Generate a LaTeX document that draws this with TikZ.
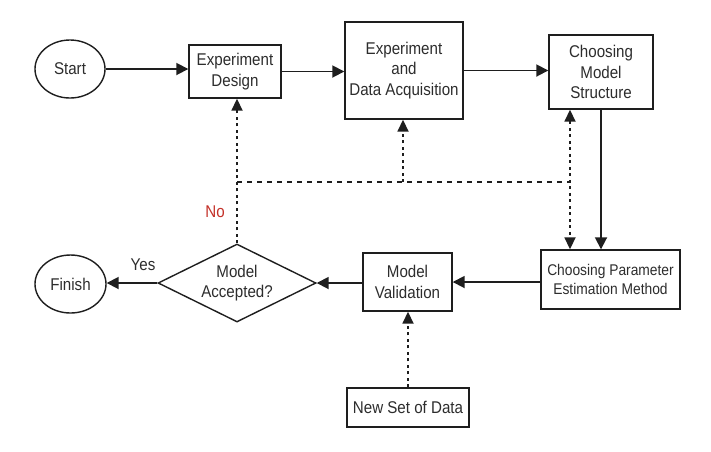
\documentclass[tikz,border=0pt]{standalone}
\usepackage{fontspec}
\setmainfont{Liberation Sans}[FakeStretch=0.89]
\usetikzlibrary{shapes.geometric,arrows.meta}
\definecolor{ink}{RGB}{30,30,30}
\definecolor{txt}{RGB}{45,45,45}
\definecolor{nored}{RGB}{196,48,40}
\begin{document}
\begin{tikzpicture}[x=1pt,y=-1pt,
  every node/.style={text=txt,font=\fontsize{17}{20.5}\selectfont,align=center,inner sep=0pt},
  box/.style={draw=ink,line width=1.4pt,rectangle},
  oval/.style={draw=ink,line width=1.4pt,ellipse},
  decision/.style={draw=ink,line width=1.4pt,diamond,aspect=2},
  conn/.style={draw=ink,line width=1.8pt,-{Triangle[length=12pt,width=12pt]}},
  dotconn/.style={draw=ink,line width=1.8pt,dash pattern=on 3pt off 3.5pt,-{Triangle[length=12pt,width=11pt]}},
  dashline/.style={draw=ink,line width=1.8pt,dash pattern=on 5pt off 5pt}
]
\useasboundingbox (0,0) rectangle (711,451);
\fill[white] (0,0) rectangle (711,451);

\node[oval,minimum width=70pt,minimum height=58pt] (start) at (70,69) {Start};
\node[box,minimum width=92pt,minimum height=53pt] (ed) at (235,71.5) {Experiment\\Design};
\node[box,minimum width=118pt,minimum height=97pt] (eda) at (404,70.5) {Experiment\\and\\Data Acquisition};
\node[box,minimum width=104pt,minimum height=74pt] (cms) at (601,72) {Choosing\\Model\\Structure};
\node[box,minimum width=139pt,minimum height=59pt,font=\fontsize{15.5}{18.3}\selectfont] (cpem) at (610.5,279.5) {Choosing Parameter\\Estimation Method};
\node[box,minimum width=89pt,minimum height=58pt] (mv) at (407.5,282) {Model\\Validation};
\node[decision,minimum width=158pt,minimum height=78pt] (dia) at (237,283) {Model\\Accepted?};
\node[oval,minimum width=71pt,minimum height=58pt] (finish) at (70.5,284) {Finish};
\node[box,minimum width=122pt,minimum height=39pt] (nsd) at (408,407.5) {New Set of Data};

\node (yes) at (143,265) {Yes};
\node[text=nored] (no) at (215,212) {No};

\coordinate (j1) at (237,182);
\coordinate (j2) at (403,182);
\coordinate (j3) at (570,182);

\draw[conn] (start.east) -- (start.east -| ed.west);
\draw[conn] (ed.east) -- (ed.east -| eda.west);
\draw[conn] (eda.east) -- (eda.east -| cms.west);
\draw[conn] (cms.south) -- (cms.south |- cpem.north);
\draw[conn] (mv.east -| cpem.west) -- (mv.east);
\draw[conn] (dia.east -| mv.west) -- (dia.east);
\draw[conn] (dia.west) -- (dia.west -| finish.east);

\draw[dotconn] (nsd.north) -- (nsd.north |- mv.south);
\draw[dotconn] (dia.north) -- (dia.north |- ed.south);
\draw[dotconn] (j2) -- (j2 |- eda.south);
\draw[dotconn,{Triangle[length=12pt,width=11pt]}-{Triangle[length=12pt,width=11pt]}] (j3 |- cms.south) -- (j3 |- cpem.north);
\draw[dashline] (j1) -- (j3);
\end{tikzpicture}
\end{document}
